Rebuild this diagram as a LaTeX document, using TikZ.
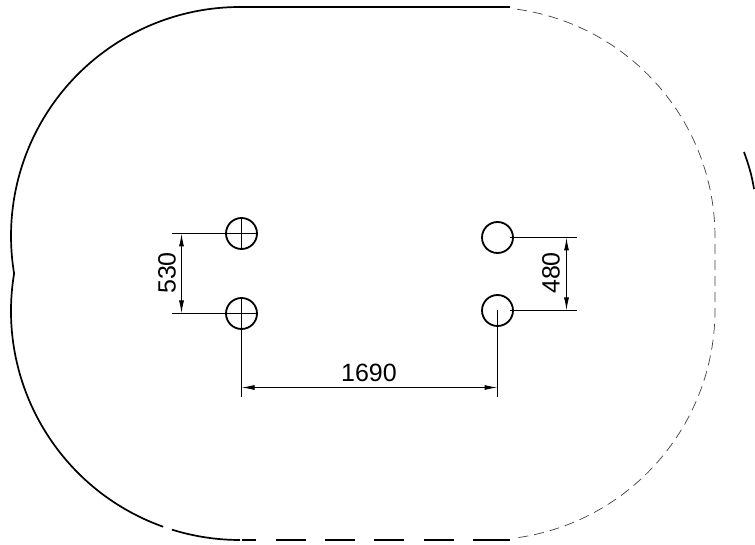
\documentclass[tikz,border=0pt]{standalone}
\usepackage{fontspec}
\setmainfont{Liberation Sans}
\usetikzlibrary{arrows.meta}

\begin{document}
\begin{tikzpicture}[x=1pt, y=1pt,
cross/.style={path picture={
\draw[line width=1.5pt]
(path picture bounding box.south) -- (path picture bounding box.north) (path picture bounding box.west) -- (path picture bounding box.east);
}},
hole/.style={draw, circle, line width=1.8pt, minimum size=31pt, inner sep=0pt},
outline/.style={line width=1.7pt, line join=round},
hidden/.style={line width=0.7pt, black!75, dash pattern=on 10pt off 6pt},
dim/.style={line width=1pt},
dimarrow/.style={line width=1pt, {Latex[length=13pt, width=5pt]}-{Latex[length=13pt, width=5pt]}},
dimtext/.style={font=\fontsize{25}{25}\selectfont, inner sep=0pt}]
\useasboundingbox (0,0) rectangle (755,544);

\coordinate (upleft) at (240,308);
\coordinate (lowleft) at (240,233);
\coordinate (upright) at (485,307);
\coordinate (lowright) at (485,234);

% outline
\draw[outline] (upleft) ++(90:229) arc (90:189.43:229) arc (170.57:250.4:229);
\draw[outline] (lowleft) ++(252.7:229) arc (252.7:270:229);
\draw[outline] (240,537) -- (510,537);
\draw[outline] (487,4) -- (510,4);
\draw[line width=1.2pt, dash pattern=on 14pt off 20pt on 30pt off 19pt on 30pt off 19pt on 30pt off 20pt on 30pt off 19pt on 37pt] (242,4) -- (510,4);
\draw[hidden] (upright) ++(82:230) arc (82:0:230) -- ++(0,-73) arc (0:-82:230);
\draw[outline] (744,392) .. controls (749,378) and (752,368) .. (754,355);

% holes
\node[hole, cross] (holeA) at (241.5,310.5) {};
\node[hole, cross] (holeB) at (241.5,230.5) {};
\node[hole] (holeC) at (497.5,306.5) {};
\node[hole] (holeD) at (497.5,233.5) {};

% dimensions
\coordinate (endA) at (172,310.5);
\coordinate (endB) at (172,230.5);
\coordinate (endC) at (577,306.5);
\coordinate (endD) at (577,233.5);
\coordinate (endE) at (241.5,147);
\coordinate (endF) at (497.5,147);
\draw[dim] (holeA.center) -- (endA);
\draw[dim] (holeB.center) -- (endB);
\draw[dim] (holeC.east) ++(-4,0) -- (endC);
\draw[dim] (holeD.east) ++(-4,0) -- (endD);
\draw[dim] (holeB.south) -- (endE);
\draw[dim] (holeD.center) -- (endF);
\draw[dimarrow] (181.5,310.5) -- (181.5,230.5);
\draw[dimarrow] (566.5,306.5) -- (566.5,233.5);
\draw[dimarrow] (241.5,156.5) -- (497.5,156.5);
\node[dimtext, rotate=90] (labelA) at (167,271) {530};
\node[dimtext, rotate=90] (labelC) at (551,271) {480};
\node[dimtext] (labelE) at (369,171.5) {1690};
\end{tikzpicture}
\end{document}
